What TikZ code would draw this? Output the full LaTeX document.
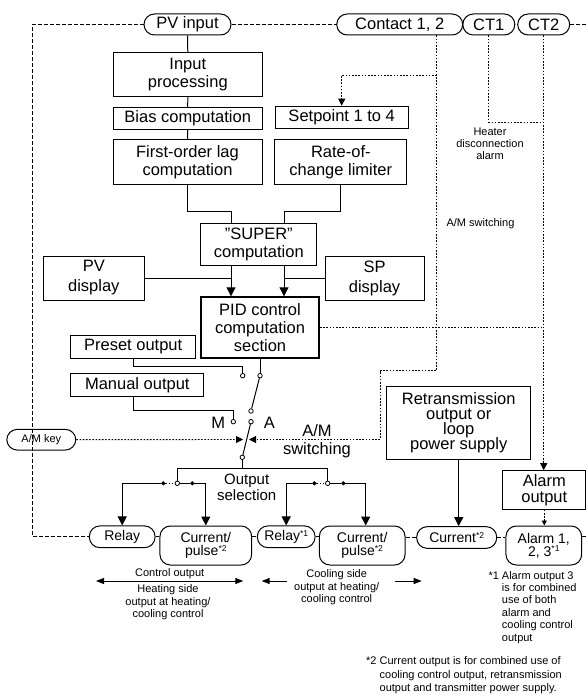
\documentclass[tikz,border=0pt]{standalone}
\usepackage{fontspec}
\setmainfont{Liberation Sans}
\usetikzlibrary{arrows.meta}
\newcommand{\tightskip}{\lineskiplimit=-20pt\relax}
\newcommand{\noteref}[1]{\raisebox{4.5pt}{\fontsize{8.5}{8.5}\selectfont *#1}}
\tikzset{>={Triangle[length=9pt,width=9pt]}}
\tikzset{
  bigtxt/.style={font=\fontsize{16.5}{18}\selectfont},
  smalltxt/.style={align=center, font=\fontsize{11}{12.3}\selectfont},
  box/.style={rectangle, draw, line width=1pt, inner sep=1pt, align=center, bigtxt},
  pill/.style={rectangle, draw, line width=1pt, rounded corners=10.5pt, inner sep=1pt, align=center, font=\fontsize{14}{12.8}\selectfont\tightskip},
  toppill/.style={pill, bigtxt},
  bus/.style={line width=0.9pt, dash pattern=on 4pt off 2pt},
  ctl/.style={line width=0.9pt, dash pattern=on 1.6pt off 1.6pt},
  sig/.style={line width=1pt},
  dtip/.style={-{Triangle[length=7pt,width=7pt]}},
  ltip/.style={{Triangle[length=8pt,width=6pt]}-{Triangle[length=8pt,width=6pt]}},
  contact/.style={circle, draw, fill=white, line width=0.8pt, inner sep=0pt, minimum size=4.5pt},
  seldot/.style={circle, draw, fill=black, line width=0.6pt, inner sep=0pt, minimum size=3.5pt},
}
\begin{document}
\begin{tikzpicture}[x=1pt,y=-1pt]
\useasboundingbox (0,0) rectangle (588,695);
\node[toppill, minimum width=87pt, minimum height=21pt] (pvin) at (187.5,24.5) {PV input};
\node[toppill, minimum width=126pt, minimum height=21pt] (contact) at (399.7,24.5) {Contact 1, 2};
\node[toppill, minimum width=52pt, minimum height=21pt] (ct1) at (488.8,24.5) {CT1};
\node[toppill, minimum width=52pt, minimum height=21pt] (ct2) at (543.7,24.5) {CT2};
\node[box, minimum width=149pt, minimum height=44pt] (inproc) at (187.8,74.7) {Input\\processing};
\node[box, minimum width=149pt, minimum height=22pt] (bias) at (187.7,118.3) {Bias computation};
\node[box, minimum width=149pt, minimum height=44pt] (lag) at (187.5,162) {First-order lag\\computation};
\node[box, minimum width=133pt, minimum height=22pt] (setp) at (341.7,117.2) {Setpoint 1 to 4};
\node[box, minimum width=132pt, minimum height=44pt] (rate) at (340.8,162) {Rate-of-\\change limiter};
\node[box, minimum width=116pt, minimum height=42pt] (super) at (258.8,244.2) {\symbol{34}SUPER\symbol{34}\\computation};
\node[box, minimum width=101pt, minimum height=44pt, font=\fontsize{16.5}{20}\selectfont] (pvdisp) at (93.8,278) {PV\\display};
\node[box, minimum width=99pt, minimum height=44pt, font=\fontsize{16.5}{20}\selectfont] (spdisp) at (374.5,278) {SP\\display};
\node[box, line width=2pt, minimum width=118pt, minimum height=61pt] (pid) at (260,327.8) {PID control\\computation\\section};
\node[box, minimum width=125pt, minimum height=22.6pt] (preset) at (133.2,347) {Preset output};
\node[box, minimum width=133pt, minimum height=22.7pt] (manual) at (137.3,385.3) {Manual output};
\node[pill, smalltxt, minimum width=69pt, minimum height=20.7pt] (amkey) at (41.3,439.7) {A/M key};
\node[box, font=\fontsize{16.5}{15}\selectfont\tightskip, minimum width=144pt, minimum height=73pt] (retrans) at (458.7,422.5) {Retransmission\\output or\\loop\\power supply};
\node[box, font=\fontsize{16.5}{15.7}\selectfont\tightskip, minimum width=83pt, minimum height=38.6pt] (alout) at (544.3,490) {Alarm\\output};
\node[pill, minimum width=65.7pt, minimum height=21.7pt] (relay1) at (122.2,536.8) {Relay};
\node[pill, minimum width=91.7pt, minimum height=39pt] (curp1) at (205.8,545.5) {Current/\\pulse\noteref{2}};
\node[pill, minimum width=57.7pt, minimum height=21.7pt] (relay2) at (286.2,536.8) {Relay\noteref{1}};
\node[pill, minimum width=85.7pt, minimum height=39pt] (curp2) at (362.2,545.5) {Current/\\pulse\noteref{2}};
\node[pill, minimum width=80pt, minimum height=21.7pt] (curr) at (456.7,537.5) {Current\noteref{2}};
\node[pill, minimum width=75.7pt, minimum height=39pt] (alarm) at (543.8,545.5) {Alarm 1,\\2, 3\noteref{1}};
\node[contact] (cpre) at (242.7,375.7) {};
\node[contact] (cpid) at (260,375.7) {};
\node[contact] (cpiv1) at (251,411) {};
\node[contact] (cM) at (233.3,421.7) {};
\node[contact] (cA) at (251,421.7) {};
\node[contact] (cpiv2) at (242.3,457.3) {};
\node[bigtxt] (mlab) at (218.3,423) {M};
\node[bigtxt] (alab) at (269.3,423) {A};
\node[bigtxt, align=center] (amsw) at (317,441) {A/M\\switching};
\node[seldot] (s1a) at (163.3,483.3) {};
\node[contact] (s1m) at (177.3,483.3) {};
\node[seldot] (s1b) at (192.3,483.3) {};
\node[seldot] (s2a) at (314.3,483.3) {};
\node[contact] (s2m) at (327.7,483.3) {};
\node[seldot] (s2b) at (343.3,483.3) {};
\node[align=center, font=\fontsize{15}{16}\selectfont] (osel) at (246.7,487) {Output\\selection};
\node[smalltxt] (heat) at (490,143.7) {Heater\\disconnection\\alarm};
\node[smalltxt, anchor=west] (amlab) at (443,224) {A/M switching};
\coordinate (busx) at (32.3,0);
\coordinate (busR) at (588,24.5);
\coordinate (busR2) at (588,536);
\coordinate (spj) at (436.7,75);
\coordinate (amk) at (380,370.7);
\coordinate (amL) at (243,439.5);
\coordinate (amR) at (249,439.5);
\coordinate (ctj) at (544,122.3);
\coordinate (obar) at (242.3,468.3);
\coordinate (sl) at ([xshift=-27.8pt]super.south);
\coordinate (sr) at ([xshift=25.2pt]super.south);
\draw[bus] (pvin.west) -| (busx |- relay1.west) -- (relay1.west);
\draw[bus] (pvin.east) -- (contact.west);
\draw[bus] (ct2.east) -- (busR);
\draw[bus] (relay1.east) -- (relay1.east -| curp1.west);
\draw[bus] (relay1.east -| curp1.east) -- (relay2.west);
\draw[bus] (relay2.east) -- (relay2.east -| curp2.west);
\draw[bus] (curr.east -| curp2.east) -- (curr.west);
\draw[bus] (curr.east) -- (curr.east -| alarm.west);
\draw[bus] (busR2 -| alarm.east) -- (busR2);
\draw[sig] (pvin.south) -- (inproc.north);
\draw[sig] (inproc.south) -- (bias.north);
\draw[sig] (bias.south) -- (lag.north);
\draw[sig] (lag.south) -- ++(0,26.7) -| ([xshift=-27.8pt]super.north);
\draw[sig] (rate.south) -- ++(0,26.7) -| ([xshift=25.2pt]super.north);
\draw[sig,->] (sl) -- (sl |- pid.north);
\draw[sig,->] (sr) -- (sr |- pid.north);
\draw[sig] (pvdisp.east) -- (pvdisp.east -| sl);
\draw[sig] (spdisp.west) -- (spdisp.west -| sr);
\draw[sig] (pid.south) -- (cpid);
\draw[sig] (cpid) -- (cpiv1);
\draw[sig] (cpiv2) -- (cA);
\draw[sig] (preset.south) -- ++(0,7.4) -| (cpre);
\draw[sig] ([xshift=-4pt]manual.south) -- ++(0,13.3) -| (cM);
\draw[ctl,dtip] (amkey) -- (amL);
\draw[ctl,dtip] ([xshift=37pt]contact.south) |- (amk) |- (amR);
\draw[ctl,dtip] (spj) -| (setp.north);
\draw[ctl] (ct1.south) |- (ctj);
\draw[ctl,dtip] (ct2.south) -- (ct2.south |- alout.north);
\draw[ctl] (pid.east) -- (pid.east -| ct2.south);
\draw[sig] (cpiv2) -- (obar);
\draw[sig] (s1m) |- (obar) -| (s2m);
\draw[ctl,line width=0.7pt] (s1a) -- (s1m);
\draw[sig] (s1m) -- (s1b);
\draw[ctl,line width=0.7pt] (s2a) -- (s2m);
\draw[sig] (s2m) -- (s2b);
\draw[sig,->] (s1a) -| (relay1.north);
\draw[sig,->] (s1b) -| (curp1.north);
\draw[sig,->] (s2a) -| (relay2.north);
\draw[sig,->] (s2b) -| ([xshift=3.5pt]curp2.north);
\draw[sig,->] (retrans.south) -- (retrans.south |- curr.north);
\draw[ctl,-{Triangle[length=5pt,width=5pt]}] (alout.south) -- (alout.south |- alarm.north);
\coordinate (hl) at (96,581);
\coordinate (hr) at (243.3,581);
\coordinate (cl1) at (261.7,581);
\coordinate (cl2) at (286.7,581);
\coordinate (cr1) at (395,581);
\coordinate (cr2) at (421.7,581);
\draw[sig,ltip] (hl) -- node[smalltxt, above, inner sep=2pt] (ctrlab) {Control output} (hr);
\draw[sig,-{Triangle[length=8pt,width=6pt]}] (cl2) -- (cl1);
\draw[sig,-{Triangle[length=8pt,width=6pt]}] (cr1) -- (cr2);
\node[smalltxt] (heatlab) at (168,602.3) {Heating side\\output at heating/\\cooling control};
\node[smalltxt] (coollab) at (336.7,587.3) {Cooling side\\output at heating/\\cooling control};
\node[anchor=base west, inner sep=0pt, font=\fontsize{11}{12.4}\selectfont] (note1) at (488.3,579) {\begin{tabular}[t]{@{}l@{~}l@{}}*1 & Alarm output 3\\ & is for combined\\ & use of both\\ & alarm and\\ & cooling control\\ & output\end{tabular}};
\node[anchor=base west, inner sep=0pt, font=\fontsize{11}{13.3}\selectfont] (note2) at (366,664.7) {\begin{tabular}[t]{@{}l@{~}l@{}}*2 & Current output is for combined use of\\ & cooling control output, retransmission\\ & output and transmitter power supply.\end{tabular}};
\end{tikzpicture}
\end{document}
